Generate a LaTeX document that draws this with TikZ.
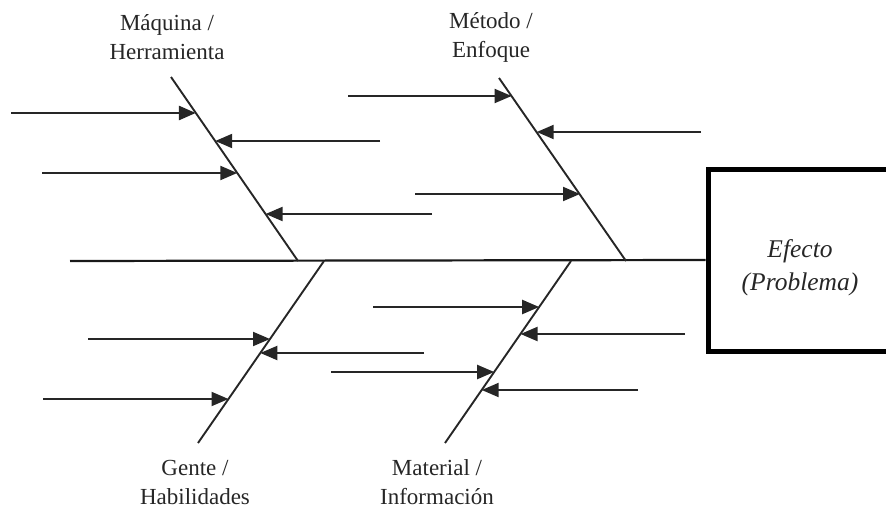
\documentclass[tikz,border=0pt]{standalone}
\usepackage{fontspec}
\setmainfont{Liberation Serif}
\usetikzlibrary{arrows.meta}
\begin{document}
\begin{tikzpicture}[x=1pt,y=-1pt,
  bone/.style={line width=1.9pt,draw=black!85},
  spine/.style={line width=2.2pt,draw=black!90},
  cause/.style={line width=2pt,draw=black!85,-{Triangle[length=17pt,width=14pt]}},
  thickcause/.style={cause,line width=2.8pt},
  lbl/.style={font=\fontsize{23}{29}\selectfont,text=black!85,align=center,inner sep=0pt},
  effectbox/.style={draw=black,line width=5pt,minimum width=184pt,minimum height=182pt,
    font=\itshape\fontsize{25.5}{33}\selectfont,text=black!85,align=center,inner sep=0pt}]
\useasboundingbox (0,0) rectangle (886,508);
% effect box
\node[effectbox] (efecto) at (800,260) {\rule{0pt}{34pt}Efecto\\(Problema)};
% spine
\coordinate (s0) at (70,261);
\draw[spine] (s0) -- (efecto.west);
% bones
\coordinate (A1) at (171,77);  \coordinate (A2) at (298,261);
\coordinate (B1) at (499,78);  \coordinate (B2) at (626,261);
\coordinate (C1) at (324,261); \coordinate (C2) at (198,443);
\coordinate (D1) at (571,261); \coordinate (D2) at (445,443);
\draw[bone] (A1) -- (A2);
\draw[bone] (B1) -- (B2);
\draw[bone] (C1) -- (C2);
\draw[bone] (D1) -- (D2);
% labels
\node[lbl] (lA) at (167,37) {Máquina /\\Herramienta};
\node[lbl] (lB) at (491,37) {Método /\\Enfoque};
\node[lbl] (lC) at (195,482) {Gente /\\Habilidades};
\node[lbl] (lD) at (437,482) {Material /\\Información};
% causes on bone A
\coordinate (a1s) at (11,113);  \coordinate (a1t) at (195.8,113);
\coordinate (a2s) at (380,141); \coordinate (a2t) at (215.2,141);
\coordinate (a3s) at (42,173);  \coordinate (a3t) at (237.3,173);
\coordinate (a4s) at (432,214); \coordinate (a4t) at (265.6,214);
\draw[thickcause] (a1s) -- (a1t);
\draw[cause] (a2s) -- (a2t);
\draw[cause] (a3s) -- (a3t);
\draw[cause] (a4s) -- (a4t);
% causes on bone B
\coordinate (b1s) at (348,96);  \coordinate (b1t) at (511.6,96);
\coordinate (b2s) at (701,132); \coordinate (b2t) at (536.7,132);
\coordinate (b3s) at (415,194); \coordinate (b3t) at (580,194);
\draw[cause] (b1s) -- (b1t);
\draw[cause] (b2s) -- (b2t);
\draw[cause] (b3s) -- (b3t);
% causes on bone C
\coordinate (c1s) at (88,339);  \coordinate (c1t) at (270,339);
\coordinate (c2s) at (424,353); \coordinate (c2t) at (260.3,353);
\coordinate (c3s) at (43,399);  \coordinate (c3t) at (228.5,399);
\draw[cause] (c1s) -- (c1t);
\draw[cause] (c2s) -- (c2t);
\draw[cause] (c3s) -- (c3t);
% causes on bone D
\coordinate (d1s) at (373,307); \coordinate (d1t) at (539.2,307);
\coordinate (d2s) at (685,334); \coordinate (d2t) at (520.5,334);
\coordinate (d3s) at (331,372); \coordinate (d3t) at (494.2,372);
\coordinate (d4s) at (638,390); \coordinate (d4t) at (481.7,390);
\draw[cause] (d1s) -- (d1t);
\draw[cause] (d2s) -- (d2t);
\draw[cause] (d3s) -- (d3t);
\draw[cause] (d4s) -- (d4t);
\end{tikzpicture}
\end{document}
